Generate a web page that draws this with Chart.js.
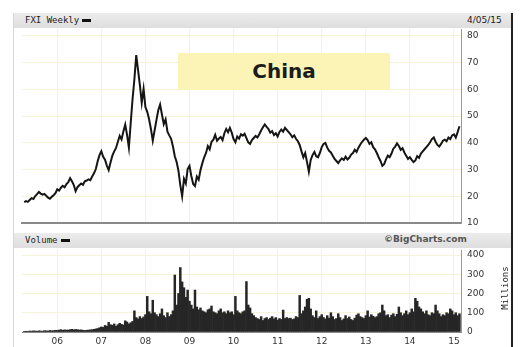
<!DOCTYPE html>
<html>
<head>
<meta charset="utf-8">
<script src="https://cdn.jsdelivr.net/npm/chart.js@4.4.0/dist/chart.umd.min.js"></script>
<style>
  body { margin:0; width:524px; height:347px; overflow:hidden; position:relative; background:#fff; font-family:"DejaVu Sans", sans-serif; }
  .frame { position:absolute; left:13px; top:13px; width:497px; height:340px; border-left:1px solid #d6d6d6; border-right:2px solid #222; }
  .bar { position:absolute; left:14px; width:497px; height:15px; background:linear-gradient(#ececec,#dedede); }
  .lbl { position:absolute; font-size:9px; color:#222; line-height:15px; }
  .mono { font-family:"DejaVu Sans Mono", monospace; }
  .dash { display:inline-block; width:9px; height:3px; background:#111; vertical-align:middle; margin-left:3px; }
  canvas { position:absolute; }
  #box { position:absolute; left:178px; top:53px; width:212px; height:37px; background:#fbf4b6;
         font:bold 20px "DejaVu Sans", sans-serif; color:#1c1c1c; text-align:center; line-height:37px; }
  #millions { position:absolute; left:481px; top:283px; width:48px; text-align:center; font-size:9px;
              transform:rotate(-90deg); color:#222; }
</style>
</head>
<body>
<div class="frame"></div>
<div class="bar" style="top:13px"></div>
<div class="lbl mono" style="left:25px;top:13px">FXI Weekly<span class="dash"></span></div>
<div class="lbl" style="left:467px;top:13px">4/05/15</div>
<canvas id="price" width="497" height="200" style="left:13px;top:28px"></canvas>
<div id="box">China</div>
<div class="bar" style="top:233px"></div>
<div class="lbl mono" style="left:25px;top:233px">Volume<span class="dash"></span></div>
<div class="lbl" style="left:384px;top:232px;color:#555;font-weight:bold">©BigCharts.com</div>
<canvas id="volume" width="497" height="99" style="left:13px;top:248px"></canvas>
<div id="millions" class="mono">Millions</div>
<script>
// semi-monthly samples, first one in April 2005
const START = 2005.25;
const STEP = 1 / 24;

const YEARS = [2006, 2007, 2008, 2009, 2010, 2011, 2012, 2013, 2014, 2015];
const PRICE_TICKS = [10, 20, 30, 40, 50, 60, 70, 80];
const VOLUME_TICKS = [0, 100, 200, 300, 400];

const PRICE = [
  17.8, 18.2, 17.9, 18.6, 19.3, 19.0, 20.1, 20.8, 21.6, 21.0, 20.6, 20.9, 20.2, 19.5, 19.1, 19.8, 20.4, 21.2, 22.6, 22.1, 23.2, 23.9, 23.4, 24.6,
  25.3, 26.8, 25.6, 24.2, 21.9, 23.4, 24.1, 24.8, 24.3, 25.6, 25.9, 26.3, 26.0, 27.4, 28.6, 30.2, 33.1, 35.4, 36.9, 34.8, 33.7, 31.5, 29.8, 32.6,
  35.2, 36.8, 38.1, 40.4, 42.6, 41.3, 44.2, 46.8, 43.0, 38.2, 47.5, 56.4, 63.8, 72.8, 67.2, 61.5, 55.0, 60.2, 53.4, 51.6, 48.8, 45.2, 40.8, 44.6,
  48.5, 52.2, 54.3, 50.6, 47.0, 48.8, 44.2, 42.8, 41.5, 38.6, 35.0, 32.8, 29.5, 24.2, 20.0, 26.5, 24.8, 30.2, 31.4, 27.6, 24.6, 23.8, 27.4, 26.2,
  29.8, 32.4, 34.6, 36.2, 38.8, 37.6, 40.4, 41.2, 43.0, 40.8, 41.6, 42.2, 41.0, 43.6, 45.2, 44.0, 45.6, 43.8, 41.4, 40.2, 42.4, 41.6, 43.2, 42.7,
  43.4, 41.8, 40.2, 39.6, 41.0, 41.8, 42.6, 42.0, 43.2, 44.6, 45.8, 46.9, 46.0, 45.2, 43.8, 44.4, 42.9, 43.6, 42.4, 44.1, 45.0, 44.2, 45.6, 44.8,
  44.0, 43.2, 42.1, 42.8, 41.5, 40.6, 39.2, 36.8, 34.6, 36.2, 32.8, 29.2, 33.6, 35.4, 36.6, 35.0, 34.6, 36.2, 38.4, 39.6, 40.0, 38.2, 37.0, 36.4,
  35.2, 34.0, 33.2, 32.4, 33.4, 34.2, 33.6, 34.8, 33.8, 34.4, 35.6, 36.2, 37.4, 36.6, 38.2, 39.4, 40.4, 41.2, 41.8, 41.0, 39.6, 40.2, 38.4, 37.6,
  36.2, 34.6, 33.2, 31.4, 32.0, 33.8, 35.2, 34.6, 36.0, 37.8, 38.6, 39.8, 38.8, 37.4, 38.0, 36.4, 35.2, 34.0, 34.6, 33.6, 32.8, 33.4, 35.0, 34.4,
  36.0, 36.8, 37.6, 38.4, 39.2, 40.2, 41.4, 42.0, 40.4, 39.2, 38.6, 39.6, 40.8, 41.2, 40.6, 42.0, 41.4, 42.8, 43.2, 42.0, 44.0, 46.2
];

// millions of shares
const VOLUME = [
  3, 4, 3, 5, 4, 6, 5, 4, 6, 5, 4, 7, 6, 5, 8, 6, 7, 9, 8, 10, 12, 9, 11, 10,
  10, 12, 14, 11, 13, 12, 10, 11, 9, 8, 9, 10, 11, 12, 14, 16, 18, 22, 26, 24, 34, 30, 50, 38,
  35, 42, 30, 38, 45, 40, 36, 58, 52, 42, 48, 55, 110, 75, 68, 80, 70, 78, 90, 185, 105, 95, 165, 100,
  90, 80, 95, 120, 85, 75, 100, 80, 90, 110, 296, 140, 200, 335, 260, 230, 180, 218, 160, 140, 120, 218, 130, 115,
  125, 110, 105, 100, 115, 120, 135, 105, 100, 95, 110, 120, 100, 105, 95, 110, 100, 105, 90, 185, 110, 100, 95, 105,
  110, 262, 140, 125, 95, 85, 75, 70, 65, 80, 60, 70, 75, 65, 72, 80, 68, 75, 62, 70, 65, 114, 70, 75,
  70, 72, 65, 68, 80, 75, 190, 95, 110, 130, 170, 175, 120, 85, 75, 110, 70, 80, 90, 75, 68, 85, 72, 100,
  80, 65, 70, 95, 75, 60, 68, 85, 70, 78, 65, 60, 72, 88, 95, 80, 75, 70, 85, 110, 78, 90, 82, 75,
  80, 95, 100, 140, 110, 85, 90, 75, 88, 95, 80, 92, 130, 100, 85, 95, 110, 90, 100, 120, 105, 175, 160, 130,
  120, 105, 95, 110, 90, 85, 100, 95, 140, 110, 95, 80, 90, 85, 100, 95, 120, 110, 90, 100, 85, 95
];

const X_MIN = 2005.2, X_MAX = 2015.16;
const GRID = "#f6f4d8";
const TICK_FONT = { family: "DejaVu Sans", size: 9 };

const toPoints = arr => arr.map((v, i) => ({ x: START + i * STEP, y: v }));
const fixTicks = list => s => { s.ticks = list.map(v => ({ value: v })); };
// no extra room for tick labels hanging over the plot edges
const noPad = s => { s.paddingTop = 0; s.paddingBottom = 0; s.paddingLeft = 0; s.paddingRight = 0; };

function xScale(showLabels) {
  return {
    type: "linear", min: X_MIN, max: X_MAX, offset: false,
    afterBuildTicks: fixTicks(YEARS),
    ticks: {
      display: showLabels, color: "#333", font: TICK_FONT, padding: 4, maxRotation: 0,
      callback: v => String(v).slice(2)
    },
    grid: { color: GRID, drawTicks: false, offset: false },
    border: { color: "#8a8a8a", width: showLabels ? 1 : 2 },
    afterFit: s => { noPad(s); s.height = showLabels ? 15 : 0; }
  };
}

function yScale(min, max, list) {
  return {
    position: "right", min, max,
    afterBuildTicks: fixTicks(list),
    ticks: { color: "#333", font: TICK_FONT, padding: 6 },
    grid: { color: GRID, drawTicks: false },
    border: { color: "#999" },
    afterFit: s => { noPad(s); s.width = 49; }
  };
}

new Chart(document.getElementById("price"), {
  type: "line",
  data: {
    datasets: [{
      data: toPoints(PRICE),
      borderColor: "#151515", borderWidth: 2,
      pointRadius: 0, tension: 0
    }]
  },
  options: {
    responsive: false, animation: false, events: [],
    layout: { padding: { left: 9, top: 1, right: 0, bottom: 5 } },
    plugins: { legend: { display: false }, tooltip: { enabled: false } },
    scales: { x: xScale(false), y: yScale(10, 82.6, PRICE_TICKS) }
  }
});

new Chart(document.getElementById("volume"), {
  type: "bar",
  data: {
    datasets: [{
      data: toPoints(VOLUME),
      backgroundColor: "#262626", borderWidth: 0,
      barPercentage: 1, categoryPercentage: 1
    }]
  },
  options: {
    responsive: false, animation: false, events: [],
    layout: { padding: { left: 9, top: 2, right: 0, bottom: 0 } },
    plugins: { legend: { display: false }, tooltip: { enabled: false } },
    scales: { x: xScale(true), y: yScale(0, 426, VOLUME_TICKS) }
  }
});
</script>
</body>
</html>
